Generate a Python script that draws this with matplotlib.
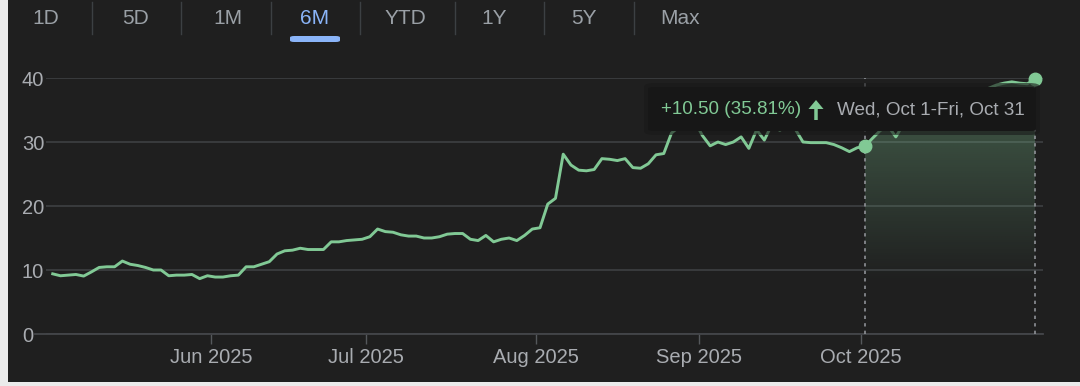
import numpy as np
import pandas as pd
import matplotlib
matplotlib.use('Agg')
from matplotlib import pyplot as plt
from matplotlib.patches import FancyBboxPatch, Rectangle, FancyArrow
from matplotlib.lines import Line2D

plt.rcParams['font.family'] = ['Liberation Sans', 'DejaVu Sans']

# trading days shown in the 6M view
holidays = ['2025-05-26', '2025-06-19', '2025-07-04', '2025-09-01']
dates = pd.bdate_range('2025-05-01', '2025-10-31', freq='C', holidays=holidays)

# closing prices, one per trading day
prices = [
    9.4, 9.1, 9.2, 9.3, 9.05, 9.7, 10.4, 10.5, 10.5, 11.4,
    10.9, 10.7, 10.4, 10.0, 10.0, 9.1, 9.2, 9.2, 9.3, 8.65,
    9.1, 8.9, 8.9, 9.1, 9.2, 10.5, 10.5, 10.9, 11.3, 12.5,
    13.0, 13.1, 13.4, 13.2, 13.2, 13.2, 14.4, 14.4, 14.6, 14.7,
    14.8, 15.2, 16.4, 16.0, 15.9, 15.5, 15.3, 15.3, 15.0, 15.0,
    15.2, 15.6, 15.7, 15.7, 14.8, 14.6, 15.4, 14.4, 14.8, 15.0,
    14.6, 15.4, 16.4, 16.6, 20.3, 21.2, 28.1, 26.4, 25.6, 25.5,
    25.7, 27.4, 27.3, 27.1, 27.4, 26.0, 25.9, 26.6, 28.0, 28.2,
    31.4, 32.4, 33.6, 33.2, 31.0, 29.4, 30.0, 29.6, 30.0, 30.8,
    29.0, 31.9, 30.3, 32.8, 31.8, 32.8, 32.0, 30.0, 29.9, 29.9,
    29.9, 29.6, 29.1, 28.5, 29.1, 29.32, 30.6, 31.8, 32.5, 30.8,
    32.8, 33.5, 34.2, 33.6, 34.8, 35.5, 35.0, 36.2, 36.8, 37.3,
    37.8, 38.4, 38.9, 39.2, 39.4, 39.2, 39.1, 39.82,
]
tabs = ['1D', '5D', '1M', '6M', 'YTD', '1Y', '5Y', 'Max']
active_tab = '6M'
yticks = [0, 10, 20, 30, 40]
month_starts = ['2025-06-01', '2025-07-01', '2025-08-01', '2025-09-01', '2025-10-01']
range_start = '2025-10-01'

bg = '#1f1f1f'
green = '#81c995'
grey_txt = '#a9acb1'
grid_c = '#3b3d40'

W, H = 1080, 386
fig = plt.figure(figsize=(W / 100, H / 100), dpi=100)
fig.patch.set_facecolor('#ebebeb')
fig.patches.append(Rectangle((8 / W, 4 / H), 1 - 8 / W, 1 - 4 / H, transform=fig.transFigure,
                             facecolor=bg, edgecolor='none', zorder=-10))

ax = fig.add_axes([46 / W, 52 / H, 997 / W, 256 / H])
ax.set_facecolor(bg)
x = np.arange(len(dates))
y = np.array(prices)

ax.set_xlim(-0.87, 128.03)
ax.set_ylim(0, 40)
for s in ax.spines.values():
    s.set_visible(False)

ax.set_yticks(yticks)
ax.yaxis.grid(True, color=grid_c, lw=1.3)
ax.set_axisbelow(True)
ax.axhline(0, xmin=-11.5 / 997, xmax=1, color='#44464a', lw=1.3, clip_on=False, zorder=1)
ax.tick_params(axis='y', length=0, pad=17.3, labelsize=14.5, labelcolor=grey_txt)
for lab in ax.get_yticklabels():
    lab.set_horizontalalignment('left')

tick_pos = [dates.searchsorted(pd.Timestamp(m)) - 0.5 for m in month_starts]
ax.set_xticks(tick_pos)
ax.set_xticklabels([pd.Timestamp(m).strftime('%b %Y') for m in month_starts])
ax.tick_params(axis='x', length=7.2, width=1, color='#55585c', pad=3, labelsize=14.5,
               labelcolor=grey_txt)

# selected range: Oct 1 - Oct 31
i0 = dates.searchsorted(pd.Timestamp(range_start))
i1 = len(dates) - 1
sel_x = x[i0:i1 + 1]
sel_y = y[i0:i1 + 1]
poly = ax.fill_between(sel_x, sel_y, 0, facecolor='none', edgecolor='none')
grad = np.zeros((200, 2, 4))
grad[:, :, :3] = matplotlib.colors.to_rgb(green)
levels = np.linspace(40, 0, 200)
grad[:, :, 3] = (np.clip((levels - 8) / 32, 0, 1) * 0.38)[:, None]
im = ax.imshow(grad, extent=[sel_x[0], sel_x[-1], 0, 40], aspect='auto', zorder=2,
               interpolation='bilinear')
im.set_clip_path(poly.get_paths()[0], transform=ax.transData)
ax.vlines([sel_x[0], sel_x[-1]], 0, 40, colors='#8e9196', linestyles=(0, (2, 2.5)), lw=1.2,
          zorder=2.5)

ax.plot(x, y, color=green, lw=2.1, solid_joinstyle='round', zorder=3)
ax.plot([sel_x[0], sel_x[-1]], [sel_y[0], sel_y[-1]], 'o', ms=9, color=green, zorder=4,
        clip_on=False)

# tooltip
chg = sel_y[-1] - sel_y[0]
pct = chg / sel_y[0] * 100
d0, d1 = dates[i0], dates[i1]
fig.patches.append(FancyBboxPatch((644 / W, (H - 135) / H), 396 / W, 52 / H,
                                  boxstyle='round,pad=0,rounding_size=0.01',
                                  transform=fig.transFigure, facecolor='#191919',
                                  edgecolor='none', alpha=0.6, zorder=5))
fig.patches.append(FancyBboxPatch((648 / W, (H - 131) / H), 388 / W, 44 / H,
                                  boxstyle='round,pad=0,rounding_size=0.005',
                                  transform=fig.transFigure, facecolor='#171717',
                                  edgecolor='none', zorder=6))
ty = 1 - 110 / H
fig.text(661 / W, ty, f'+{chg:.2f} ({pct:.2f}%)', color=green, fontsize=13.6, va='center',
         ha='left', zorder=7)
# up arrow drawn in pixel units
fig.patches.append(FancyArrow(816, H - 120, 0, 20, width=3.5, head_width=15, head_length=9,
                              length_includes_head=True, transform=None,
                              facecolor=green, edgecolor='none', zorder=7))
fig.text(837 / W, ty, f'{d0:%a, %b} {d0.day}-{d1:%a, %b} {d1.day}', color=grey_txt,
         fontsize=13.6, va='center', ha='left', zorder=7)

# range tabs
tab_x = [46, 136, 228, 315, 405, 494, 584, 680]
sep_x = [92, 181, 271, 360, 455, 544, 634]
for t, tx in zip(tabs, tab_x):
    fig.text(tx / W, 1 - 18 / H, t, color='#8ab4f8' if t == active_tab else '#9aa0a6',
             fontsize=15, ha='center', va='center')
for sx in sep_x:
    fig.add_artist(Line2D([sx / W, sx / W], [1 - 2 / H, 1 - 34 / H], color='#3c4043', lw=1,
                          transform=fig.transFigure))
fig.patches.append(FancyBboxPatch((290 / W, (H - 42) / H), 50 / W, 6 / H,
                                  boxstyle='round,pad=0,rounding_size=0.004',
                                  transform=fig.transFigure, facecolor='#8ab4f8',
                                  edgecolor='none', zorder=5))

fig.savefig('out.png', dpi=100, facecolor=fig.get_facecolor())
